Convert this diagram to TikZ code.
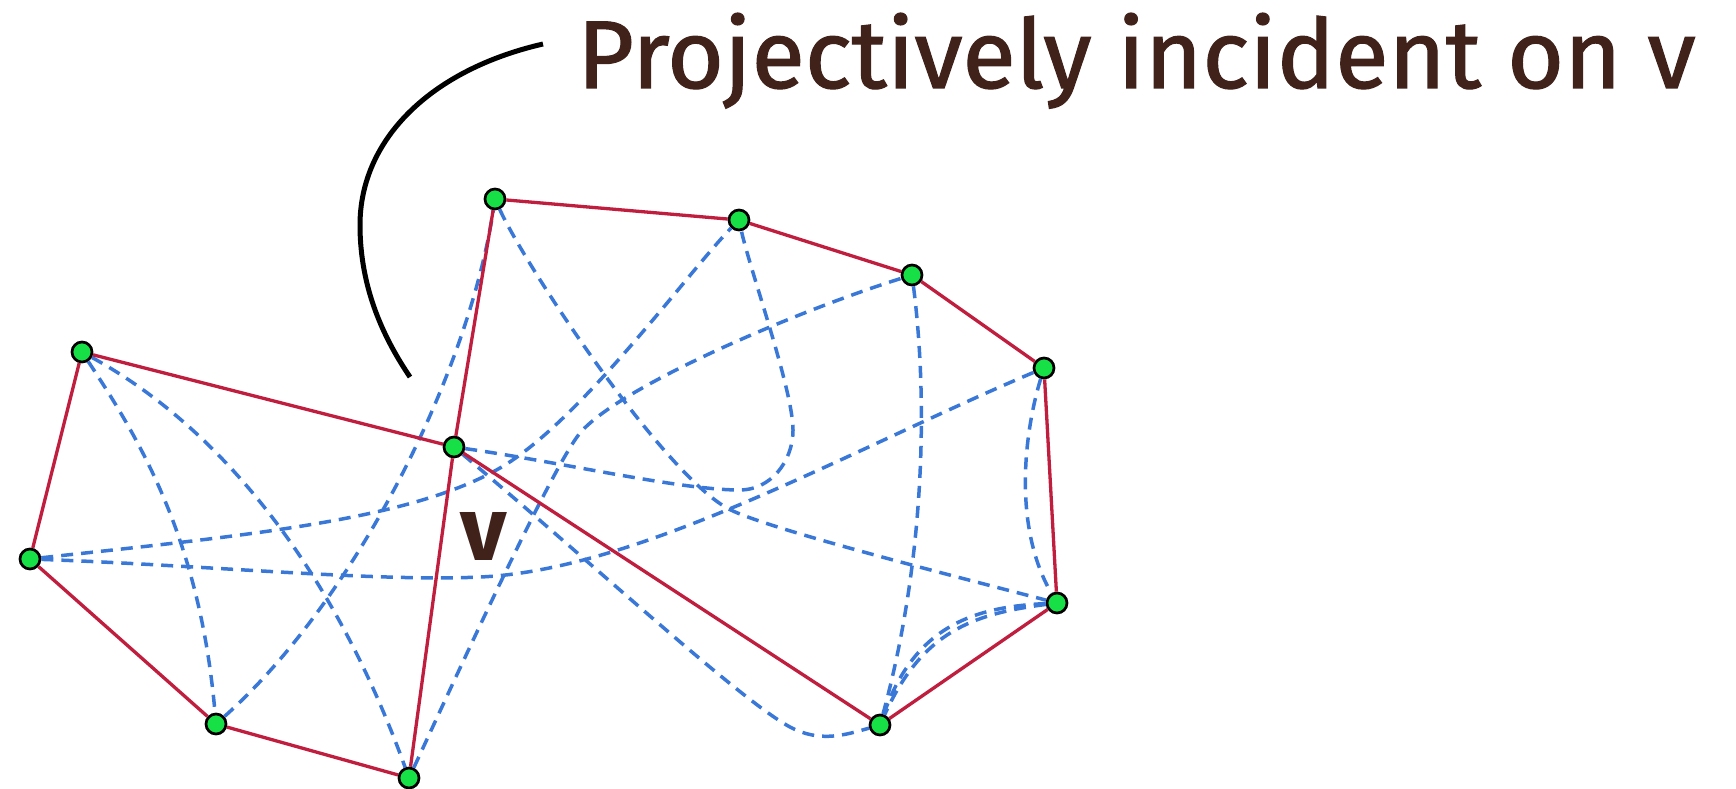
\documentclass[tikz,border=0pt]{standalone}
\usepackage{fontspec}
\setmainfont{Fira Sans}
\newfontfamily\titlefont[FakeBold=1.2]{Fira Sans}
\usepackage{graphicx}
\definecolor{edgered}{RGB}{192,30,62}
\definecolor{dashblue}{RGB}{58,120,216}
\definecolor{vgreen}{RGB}{22,224,70}
\definecolor{txtbrown}{RGB}{64,34,26}
\begin{document}
\begin{tikzpicture}[x=1pt,y=-1pt,
  vtx/.style={circle,fill=vgreen,draw=black,line width=2.7pt,minimum size=20pt,inner sep=0pt},
  bedge/.style={dashblue,line width=3.5pt,dash pattern=on 12pt off 8pt},
  redge/.style={edgered,line width=3.3pt},
  pointer/.style={black,line width=5pt}]
\useasboundingbox (0,0) rectangle (1736,789);

% vertices
\node[vtx] (A) at (82,352) {};
\node[vtx] (B) at (30,559) {};
\node[vtx] (C) at (216,724) {};
\node[vtx] (D) at (409,778) {};
\node[vtx] (V) at (454,447) {};
\node[vtx] (E) at (495,199) {};
\node[vtx] (F) at (739,220) {};
\node[vtx] (G) at (912,275) {};
\node[vtx] (H) at (1044,368) {};
\node[vtx] (I) at (1057,603) {};
\node[vtx] (J) at (880,725) {};

% dashed (blue) connectors
\draw[bedge] (A) .. controls (140,440) and (200,540) .. (C);
\draw[bedge] (A) .. controls (215,425) and (330,560) .. (D);
\draw[bedge] (C) .. controls (355,600) and (468,375) .. (E);
\draw[bedge] (B) .. controls (250,535) and (410,520) .. (500,468) .. controls (580,422) and (690,270) .. (F);
\draw[bedge] (B) .. controls (200,565) and (380,582) .. (480,577) .. controls (640,570) and (850,450) .. (H);
\draw[bedge] (D) .. controls (450,690) and (550,470) .. (580,433) .. controls (620,386) and (800,310) .. (G);
\draw[bedge] (V) .. controls (560,462) and (680,490) .. (740,490) .. controls (770,490) and (793,462) .. (793,430) .. controls (793,390) and (750,270) .. (F);
\draw[bedge] (V) .. controls (600,570) and (740,700) .. (790,727) .. controls (820,743) and (845,735) .. (J);
\draw[bedge] (E) .. controls (525,265) and (660,470) .. (727,508) .. controls (760,527) and (950,575) .. (I);
\draw[bedge] (G) .. controls (928,400) and (925,560) .. (J);
\draw[bedge] (H) .. controls (1025,430) and (1012,525) .. (I);
\draw[bedge] (I) .. controls (975,607) and (915,625) .. (J);
\draw[bedge] (I) .. controls (972,614) and (922,632) .. (J);

% solid (red) polygon edges
\draw[redge] (A) -- (B);
\draw[redge] (B) -- (C);
\draw[redge] (C) -- (D);
\draw[redge] (D) -- (V);
\draw[redge] (V) -- (A);
\draw[redge] (V) -- (E);
\draw[redge] (E) -- (F);
\draw[redge] (F) -- (G);
\draw[redge] (G) -- (H);
\draw[redge] (H) -- (I);
\draw[redge] (I) -- (J);
\draw[redge] (J) -- (V);

% title and pointer
\node[anchor=base west,inner sep=0pt,text=txtbrown] (title) at (577,88)
  {\resizebox{1118pt}{75pt}{\titlefont Projectively incident on v}};
\coordinate (p0) at (543,44);
\coordinate (p1) at (410,377);
\draw[pointer] (p0) .. controls (430,70) and (360,140) .. (360,225)
  .. controls (360,290) and (385,340) .. (p1);

% label v
\node[text=txtbrown,inner sep=0pt] (vlabel) at (484,536) {\resizebox{!}{48pt}{\bfseries v}};
\end{tikzpicture}
\end{document}
